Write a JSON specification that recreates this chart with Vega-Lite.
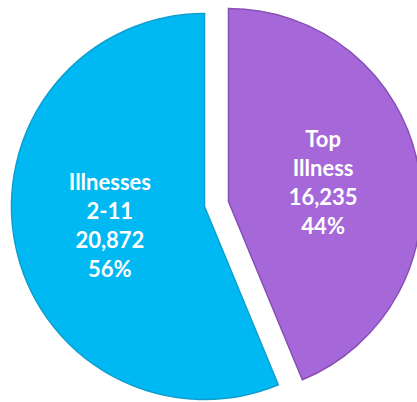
{
  "$schema": "https://vega.github.io/schema/vega-lite/v6.json",
  "width": 417,
  "height": 402,
  "autosize": {"type": "fit", "contains": "padding"},
  "padding": 0,
  "background": "white",
  "config": {"view": {"stroke": null}},
  "data": {
    "values": [
      {"category": "Top Illness", "count": 16235, "label": "Top\nIllness\n16,235\n44%"},
      {"category": "Illnesses 2-11", "count": 20872, "label": "Illnesses\n2-11\n20,872\n56%"}
    ]
  },
  "encoding": {
    "theta": {"field": "count", "type": "quantitative", "stack": true},
    "order": {"field": "category", "sort": "descending"}
  },
  "layer": [
    {
      "mark": {"type": "arc", "outerRadius": 193, "xOffset": 28, "yOffset": 1, "stroke": "#8750b5", "strokeWidth": 1.5},
      "encoding": {
        "color": {"field": "category", "type": "nominal", "scale": {"domain": ["Top Illness", "Illnesses 2-11"], "range": ["#A668D9", "#00B9F2"]}, "legend": null},
        "opacity": {"condition": {"test": "datum.category === 'Top Illness'", "value": 1}, "value": 0}
      }
    },
    {
      "mark": {"type": "arc", "outerRadius": 193, "xOffset": 4, "yOffset": 6, "stroke": "#0d9fd0", "strokeWidth": 1.5},
      "encoding": {
        "color": {"field": "category", "type": "nominal", "scale": {"domain": ["Top Illness", "Illnesses 2-11"], "range": ["#A668D9", "#00B9F2"]}, "legend": null},
        "opacity": {"condition": {"test": "datum.category === 'Illnesses 2-11'", "value": 1}, "value": 0}
      }
    },
    {
      "mark": {"type": "text", "radius": 97, "xOffset": 27.5, "yOffset": -42, "font": "Lato", "fontWeight": "bold", "fontSize": 22, "lineHeight": 29, "lineBreak": "\n", "color": "white", "align": "center", "baseline": "middle"},
      "encoding": {
        "text": {"field": "label"},
        "opacity": {"condition": {"test": "datum.category === 'Top Illness'", "value": 1}, "value": 0}
      }
    },
    {
      "mark": {"type": "text", "radius": 97, "xOffset": 4.5, "yOffset": -36, "font": "Lato", "fontWeight": "bold", "fontSize": 22, "lineHeight": 29, "lineBreak": "\n", "color": "white", "align": "center", "baseline": "middle"},
      "encoding": {
        "text": {"field": "label"},
        "opacity": {"condition": {"test": "datum.category === 'Illnesses 2-11'", "value": 1}, "value": 0}
      }
    }
  ]
}
